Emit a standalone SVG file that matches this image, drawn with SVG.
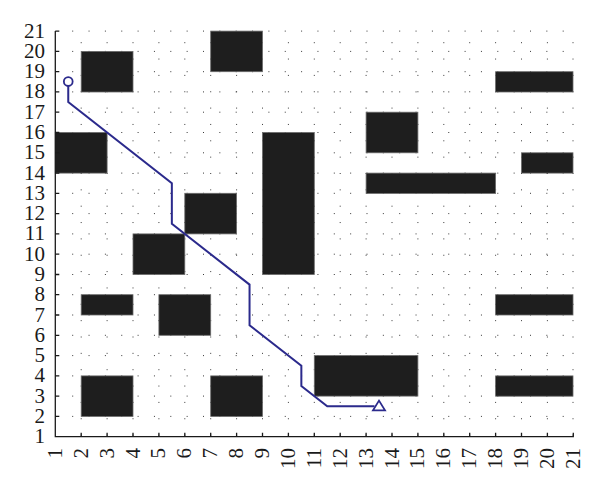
<svg xmlns="http://www.w3.org/2000/svg" width="600" height="493" viewBox="0 0 600 493">
<style>
.gh{stroke:#3a3a3a;stroke-width:1;stroke-dasharray:1 15.35;fill:none}
.ob{fill:#1e1e1e;stroke:#6a6a6a;stroke-width:0.8}
.ax{stroke:#1a1a1a;stroke-width:1.3;fill:none}
.path{stroke:#2b2a8c;stroke-width:2;fill:none;stroke-linejoin:miter}
</style>
<rect width="600" height="493" fill="#ffffff"/>
<g id="grid">
<line class="gh" x1="72.2" y1="31.1" x2="573" y2="31.1"/>
<line class="gh" x1="72.2" y1="51.4" x2="573" y2="51.4"/>
<line class="gh" x1="72.2" y1="71.7" x2="573" y2="71.7"/>
<line class="gh" x1="72.2" y1="91.9" x2="573" y2="91.9"/>
<line class="gh" x1="72.2" y1="112.2" x2="573" y2="112.2"/>
<line class="gh" x1="72.2" y1="132.5" x2="573" y2="132.5"/>
<line class="gh" x1="72.2" y1="152.8" x2="573" y2="152.8"/>
<line class="gh" x1="72.2" y1="173.1" x2="573" y2="173.1"/>
<line class="gh" x1="72.2" y1="193.3" x2="573" y2="193.3"/>
<line class="gh" x1="72.2" y1="213.6" x2="573" y2="213.6"/>
<line class="gh" x1="72.2" y1="233.9" x2="573" y2="233.9"/>
<line class="gh" x1="72.2" y1="254.2" x2="573" y2="254.2"/>
<line class="gh" x1="72.2" y1="274.5" x2="573" y2="274.5"/>
<line class="gh" x1="72.2" y1="294.7" x2="573" y2="294.7"/>
<line class="gh" x1="72.2" y1="315.0" x2="573" y2="315.0"/>
<line class="gh" x1="72.2" y1="335.3" x2="573" y2="335.3"/>
<line class="gh" x1="72.2" y1="355.6" x2="573" y2="355.6"/>
<line class="gh" x1="72.2" y1="375.9" x2="573" y2="375.9"/>
<line class="gh" x1="72.2" y1="396.1" x2="573" y2="396.1"/>
<line class="gh" x1="72.2" y1="416.4" x2="573" y2="416.4"/>
<line class="gh" x1="81.2" y1="42.2" x2="81.2" y2="436"/>
<line class="gh" x1="107.1" y1="42.2" x2="107.1" y2="436"/>
<line class="gh" x1="133.0" y1="42.2" x2="133.0" y2="436"/>
<line class="gh" x1="158.9" y1="42.2" x2="158.9" y2="436"/>
<line class="gh" x1="184.8" y1="42.2" x2="184.8" y2="436"/>
<line class="gh" x1="210.7" y1="42.2" x2="210.7" y2="436"/>
<line class="gh" x1="236.6" y1="42.2" x2="236.6" y2="436"/>
<line class="gh" x1="262.5" y1="42.2" x2="262.5" y2="436"/>
<line class="gh" x1="288.4" y1="42.2" x2="288.4" y2="436"/>
<line class="gh" x1="314.3" y1="42.2" x2="314.3" y2="436"/>
<line class="gh" x1="340.2" y1="42.2" x2="340.2" y2="436"/>
<line class="gh" x1="366.1" y1="42.2" x2="366.1" y2="436"/>
<line class="gh" x1="392.0" y1="42.2" x2="392.0" y2="436"/>
<line class="gh" x1="417.9" y1="42.2" x2="417.9" y2="436"/>
<line class="gh" x1="443.8" y1="42.2" x2="443.8" y2="436"/>
<line class="gh" x1="469.7" y1="42.2" x2="469.7" y2="436"/>
<line class="gh" x1="495.6" y1="42.2" x2="495.6" y2="436"/>
<line class="gh" x1="521.5" y1="42.2" x2="521.5" y2="436"/>
<line class="gh" x1="547.4" y1="42.2" x2="547.4" y2="436"/>
<line class="gh" x1="573.0" y1="42.2" x2="573.0" y2="436"/>
</g>
<g id="obstacles">
<g id="ob1"><rect class="ob" x="81.2" y="51.4" width="51.8" height="40.6"/></g>
<g id="ob2"><rect class="ob" x="210.7" y="31.1" width="51.8" height="40.6"/></g>
<g id="ob3"><rect class="ob" x="55.3" y="132.5" width="51.8" height="40.6"/></g>
<g id="ob4"><rect class="ob" x="366.1" y="112.2" width="51.8" height="40.6"/></g>
<g id="ob5"><rect class="ob" x="495.6" y="71.7" width="77.4" height="20.3"/></g>
<g id="ob6"><rect class="ob" x="521.5" y="152.8" width="51.5" height="20.3"/></g>
<g id="ob7"><rect class="ob" x="366.1" y="173.1" width="129.5" height="20.3"/></g>
<g id="ob8"><rect class="ob" x="262.5" y="132.5" width="51.8" height="142.0"/></g>
<g id="ob9"><rect class="ob" x="184.8" y="193.3" width="51.8" height="40.6"/></g>
<g id="ob10"><rect class="ob" x="133.0" y="233.9" width="51.8" height="40.6"/></g>
<g id="ob11"><rect class="ob" x="158.9" y="294.7" width="51.8" height="40.6"/></g>
<g id="ob12"><rect class="ob" x="81.2" y="294.7" width="51.8" height="20.3"/></g>
<g id="ob13"><rect class="ob" x="81.2" y="375.9" width="51.8" height="40.5"/></g>
<g id="ob14"><rect class="ob" x="210.7" y="375.9" width="51.8" height="40.5"/></g>
<g id="ob15"><rect class="ob" x="314.3" y="355.6" width="103.6" height="40.5"/></g>
<g id="ob16"><rect class="ob" x="495.6" y="294.7" width="77.4" height="20.3"/></g>
<g id="ob17"><rect class="ob" x="495.6" y="375.9" width="77.4" height="20.3"/></g>
</g>
<g id="axes">
<path class="ax" d="M55.3,31.1 V436.7 H573.3 V432.7"/>
<path class="ax" d="M55.3,31.1 h4 M55.3,51.4 h4 M55.3,71.7 h4 M55.3,91.9 h4 M55.3,112.2 h4 M55.3,132.5 h4 M55.3,152.8 h4 M55.3,173.1 h4 M55.3,193.3 h4 M55.3,213.6 h4 M55.3,233.9 h4 M55.3,254.2 h4 M55.3,274.5 h4 M55.3,294.7 h4 M55.3,315.0 h4 M55.3,335.3 h4 M55.3,355.6 h4 M55.3,375.9 h4 M55.3,396.1 h4 M55.3,416.4 h4"/>
<path class="ax" d="M81.2,436.7 v-4 M107.1,436.7 v-4 M133.0,436.7 v-4 M158.9,436.7 v-4 M184.8,436.7 v-4 M210.7,436.7 v-4 M236.6,436.7 v-4 M262.5,436.7 v-4 M288.4,436.7 v-4 M314.3,436.7 v-4 M340.2,436.7 v-4 M366.1,436.7 v-4 M392.0,436.7 v-4 M417.9,436.7 v-4 M443.8,436.7 v-4 M469.7,436.7 v-4 M495.6,436.7 v-4 M521.5,436.7 v-4 M547.4,436.7 v-4"/>
</g>
<g id="y-labels" font-family="'Liberation Serif', 'Times New Roman', serif" font-size="21" fill="#1a1a1a" text-anchor="end">
<text x="45" y="37.6">21</text>
<text x="45" y="57.9">20</text>
<text x="45" y="78.2">19</text>
<text x="45" y="98.4">18</text>
<text x="45" y="118.7">17</text>
<text x="45" y="139.0">16</text>
<text x="45" y="159.3">15</text>
<text x="45" y="179.6">14</text>
<text x="45" y="199.8">13</text>
<text x="45" y="220.1">12</text>
<text x="45" y="240.4">11</text>
<text x="45" y="260.7">10</text>
<text x="45" y="281.0">9</text>
<text x="45" y="301.2">8</text>
<text x="45" y="321.5">7</text>
<text x="45" y="341.8">6</text>
<text x="45" y="362.1">5</text>
<text x="45" y="382.4">4</text>
<text x="45" y="402.6">3</text>
<text x="45" y="422.9">2</text>
<text x="45" y="443.2">1</text>
</g>
<g id="x-labels" font-family="'Liberation Serif', 'Times New Roman', serif" font-size="21" fill="#1a1a1a" text-anchor="end">
<text transform="translate(61.8,448) rotate(-90)">1</text>
<text transform="translate(87.7,448) rotate(-90)">2</text>
<text transform="translate(113.6,448) rotate(-90)">3</text>
<text transform="translate(139.5,448) rotate(-90)">4</text>
<text transform="translate(165.4,448) rotate(-90)">5</text>
<text transform="translate(191.3,448) rotate(-90)">6</text>
<text transform="translate(217.2,448) rotate(-90)">7</text>
<text transform="translate(243.1,448) rotate(-90)">8</text>
<text transform="translate(269.0,448) rotate(-90)">9</text>
<text transform="translate(294.9,448) rotate(-90)">10</text>
<text transform="translate(320.8,448) rotate(-90)">11</text>
<text transform="translate(346.7,448) rotate(-90)">12</text>
<text transform="translate(372.6,448) rotate(-90)">13</text>
<text transform="translate(398.5,448) rotate(-90)">14</text>
<text transform="translate(424.4,448) rotate(-90)">15</text>
<text transform="translate(450.3,448) rotate(-90)">16</text>
<text transform="translate(476.2,448) rotate(-90)">17</text>
<text transform="translate(502.1,448) rotate(-90)">18</text>
<text transform="translate(528.0,448) rotate(-90)">19</text>
<text transform="translate(553.9,448) rotate(-90)">20</text>
<text transform="translate(579.8,448) rotate(-90)">21</text>
</g>
<g id="connectors">
<polyline class="path" points="68.25,86 68.25,102.1 171.85,183.2 171.85,223.8 249.55,284.6 249.55,325.2 301.35,365.7 301.35,386.0 327.25,406.3 374.5,406.3"/>
</g>
<g id="start"><circle cx="68.25" cy="81.6" r="4.4" fill="#ffffff" stroke="#2b2a8c" stroke-width="1.8"/></g>
<g id="goal"><polygon points="379,400.6 373,410.4 385,410.4" fill="#ffffff" stroke="#2b2a8c" stroke-width="1.8"/></g>
</svg>
